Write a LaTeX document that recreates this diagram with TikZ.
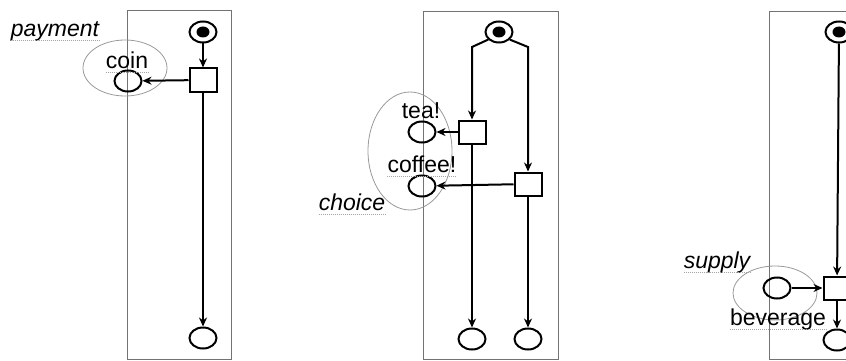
\documentclass[tikz,border=0pt]{standalone}
\usepackage{fontspec}
\setmainfont{Liberation Sans}
\usepackage{tikz}
\usetikzlibrary{shapes.geometric, arrows.meta, positioning}
\definecolor{framegray}{rgb}{0.45,0.45,0.45}
\definecolor{groupgray}{rgb}{0.6,0.6,0.6}
\definecolor{spellgray}{rgb}{0.65,0.65,0.65}

\begin{document}
\begin{tikzpicture}[x=1pt, y=-1pt,
    place/.style={ellipse, draw, line width=2pt, minimum width=27pt, minimum height=21pt, inner sep=0pt},
    token/.style={ellipse, fill=black, minimum width=13pt, minimum height=11pt, inner sep=0pt},
    trans/.style={rectangle, draw, line width=2pt, minimum width=27pt, minimum height=23pt, inner sep=0pt},
    panel/.style={draw=framegray, line width=0.9pt},
    group/.style={draw=groupgray, line width=0.8pt},
    lbl/.style={anchor=base, inner sep=0pt, font=\fontsize{23}{26}\selectfont},
    tag/.style={lbl, font=\fontsize{23}{26}\selectfont\itshape},
    spell/.style={draw=spellgray, densely dotted, line width=1pt},
    arc/.style={-{Stealth[length=9pt, width=8pt]}, line width=2pt}
]
\useasboundingbox (0,0) rectangle (846,361);
\clip (0,0) rectangle (846,361);

% payment
\draw[panel] (127,10) rectangle (231,359);
\draw[group] (125,68) ellipse [x radius=42, y radius=28];
\node[place] (start1) at (203,32) {};
\node[token] at (start1) {};
\node[trans] (pay) at (203,80) {};
\node[place] (coin) at (128,81) {};
\node[place] (end1) at (203,338) {};
\node[tag] (paylbl) at (55,37) {payment};
\node[lbl] (coinlbl) at (127,69) {coin};

\draw[arc] (start1) -- (pay);
\draw[arc] (pay) -- (coin);
\draw[arc] (pay) -- (end1);

% choice
\draw[panel] (423,11) rectangle (558,359);
\draw[group] (410,151) ellipse [x radius=42, y radius=59];
\node[place] (start2) at (499,32) {};
\node[token] at (start2) {};
\node[trans] (teaT) at (472,132) {};
\node[trans] (coffT) at (528,184) {};
\node[place] (teaP) at (422,132) {};
\node[place] (coffP) at (422,186) {};
\node[place] (end2a) at (472,339) {};
\node[place] (end2b) at (528,339) {};
\coordinate (bendL) at (472,47);
\coordinate (bendR) at (528,47);
\node[lbl] (tealbl) at (421,118) {tea!};
\node[lbl] (cofflbl) at (422,172) {coffee!};
\node[tag] (choicelbl) at (352,210) {choice};

\draw[arc] (start2.215) -- (bendL) -- (teaT);
\draw[arc] (start2.325) -- (bendR) -- (coffT);
\draw[arc] (teaT) -- (teaP);
\draw[arc] (coffT) -- (coffP);
\draw[arc] (teaT) -- (end2a);
\draw[arc] (coffT) -- (end2b);

% supply
\draw[panel] (769,11) rectangle (900,359);
\draw[group] (775,293) ellipse [x radius=42, y radius=27];
\node[place] (start3) at (839,32) {};
\node[token] at (start3) {};
\node[trans] (supT) at (837,288) {};
\node[place] (supP) at (777,288) {};
\node[place] (end3) at (837,340) {};
\node[tag] (suplbl) at (717,268) {supply};
\node[lbl] (bevlbl) at (778,325) {beverage};

\draw[arc] (start3) -- (supT);
\draw[arc] (supP) -- (supT);
\draw[arc] (supT) -- (end3);

% underlines
\foreach \n in {paylbl, coinlbl, cofflbl, choicelbl, suplbl, bevlbl}
    \draw[spell] ([yshift=-4pt]\n.base west) -- ([yshift=-4pt]\n.base east);

\end{tikzpicture}
\end{document}
